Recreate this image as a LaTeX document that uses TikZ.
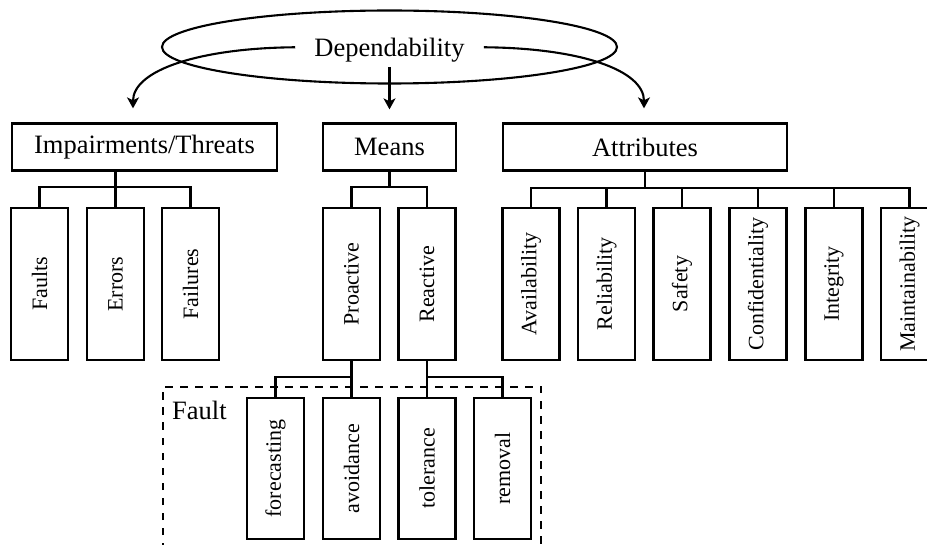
\documentclass[tikz,border=0pt]{standalone}
\usepackage{fontspec}
\setmainfont{Liberation Serif}
\usepackage{graphicx}
\usetikzlibrary{shapes.geometric,arrows.meta}
\begin{document}
\begin{tikzpicture}[x=1pt,y=-1pt,
  bigfont/.style={font=\fontsize{26.5}{30}\selectfont},
  topbox/.style={draw,line width=2.3pt,minimum height=47pt,inner sep=0pt,bigfont},
  leafbox/.style={draw,line width=2.3pt,minimum width=57pt,minimum height=152pt,inner sep=0pt,font=\fontsize{22}{25}\selectfont},
  faultbox/.style={leafbox,minimum height=141pt},
  conn/.style={line width=2.1pt},
  arr/.style={line width=2.1pt,-{Stealth[length=11pt,width=12pt,inset=3pt]}},
  groupline/.style={line width=2.4pt,dash pattern=on 7.5pt off 7.5pt},
]
\useasboundingbox (0,0) rectangle (927,545);

% root
\node[draw,ellipse,line width=2.1pt,minimum width=455pt,minimum height=73pt,inner sep=0pt] (ell) at (389.5,47) {};
\node[bigfont,inner xsep=19pt,inner ysep=4pt,anchor=base] (dep) at (389.5,57) {Dependability};

% top level
\node[topbox,minimum width=265pt] (imp) at (144.5,147) {Impairments/Threats};
\node[topbox,minimum width=133pt] (means) at (389.5,147) {Means};
\node[topbox,minimum width=284pt] (attr) at (645,147) {Attributes};

\draw[arr] ([yshift=3.4pt]dep.west) .. controls (200,48) and (133,70) .. ([xshift=-11.5pt,yshift=14pt]imp.north);
\draw[arr] ([yshift=3.4pt]dep.east) .. controls (580,48) and (644,70) .. ([xshift=-1pt,yshift=14pt]attr.north);
\draw[arr] (dep.south) -- ([yshift=13pt]means.north);

% impairments
\node[leafbox] (faults) at (39.5,284) {\rotatebox{90}{Faults}};
\node[leafbox] (errors) at (115.5,284) {\rotatebox{90}{Errors}};
\node[leafbox] (failures) at (190.5,284) {\rotatebox{90}{Failures}};
\draw[conn] (errors.north |- imp.south) -- (errors.north);
\draw[conn] (faults.north) -- ++(0,-20) -| (failures.north);

% means
\node[leafbox] (proactive) at (351.5,284) {\rotatebox{90}{Proactive}};
\node[leafbox] (reactive) at (427,284) {\rotatebox{90}{Reactive}};
\draw[conn] (means.south) -- ([yshift=20pt]proactive.north -| means.south);
\draw[conn] (proactive.north) -- ++(0,-20) -| (reactive.north);

% attributes
\node[leafbox] (avail) at (531,284) {\rotatebox{90}{Availability}};
\node[leafbox] (rel) at (606.5,284) {\rotatebox{90}{Reliability}};
\node[leafbox] (saf) at (682,284) {\rotatebox{90}{Safety}};
\node[leafbox] (conf) at (758,284) {\rotatebox{90}{Confidentiality}};
\node[leafbox] (integ) at (834,284) {\rotatebox{90}{Integrity}};
\node[leafbox] (maint) at (909.5,284) {\rotatebox{90}{Maintainability}};
\draw[conn] (attr.south) -- ([yshift=19pt]avail.north -| attr.south);
\draw[conn] (avail.north) -- ++(0,-19) -| (maint.north);
\foreach \n in {rel,saf,conf,integ} \draw[conn] (\n.north) -- ++(0,-19);

% fault group
\draw[groupline] (163,550) -- (163,387) -- (541,387) -- (541,550);
\node[bigfont,inner sep=0pt,anchor=base west] (faultlbl) at (172,420) {Fault};
\node[faultbox] (fore) at (275.5,468.5) {\rotatebox{90}{forecasting}};
\node[faultbox] (avoid) at (351.5,468.5) {\rotatebox{90}{avoidance}};
\node[faultbox] (toler) at (427,468.5) {\rotatebox{90}{tolerance}};
\node[faultbox] (remov) at (502.5,468.5) {\rotatebox{90}{removal}};
\draw[conn] (proactive.south) -- (avoid.north);
\draw[conn] (reactive.south) -- (toler.north);
\draw[conn] (fore.north) -- ++(0,-20) -| (proactive.south);
\draw[conn] (remov.north) -- ++(0,-20) -| (reactive.south);
\end{tikzpicture}
\end{document}
